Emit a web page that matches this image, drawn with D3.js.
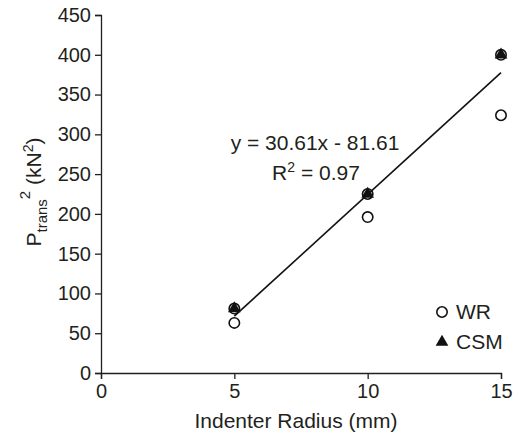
<!DOCTYPE html>
<html><head><meta charset="utf-8">
<script src="https://cdn.jsdelivr.net/npm/d3@7"></script>
<style>
body{margin:0;background:#fff;}
text{font-family:"Liberation Sans",Arial,sans-serif;fill:#231f20;}
</style></head>
<body><svg id="c" width="519" height="436"></svg>
<script>
const wrX = [5, 5, 10, 10, 15, 15];
const wrY = [63, 81, 196, 225, 324, 400];
const csmX = [5, 10, 15];
const csmY = [81, 225, 400];
const fitSlope = 30.61, fitIntercept = -81.61;
const fitRange = [5, 15];
const xTicks = [0, 5, 10, 15];
const yTicks = [0, 50, 100, 150, 200, 250, 300, 350, 400, 450];

const svg = d3.select("#c");
const x = d3.scaleLinear().domain([0, 15]).range([101, 501]);
const y = d3.scaleLinear().domain([0, 450]).range([373, 15]);
const fs = 20, fl = 21;

const xa = svg.append("g").attr("transform", "translate(0,373)")
  .call(d3.axisBottom(x).tickValues(xTicks).tickSizeOuter(0).tickSize(6).tickPadding(5));
const ya = svg.append("g").attr("transform", "translate(101,0)")
  .call(d3.axisLeft(y).tickValues(yTicks).tickSizeOuter(0).tickSize(6).tickPadding(4));
[xa, ya].forEach(a => {
  a.selectAll("path,line").attr("stroke", "#231f20").attr("stroke-width", 1.3);
  a.selectAll("text").style("font-size", fs + "px").attr("fill", "#231f20")
   .style("font-family", "'Liberation Sans',Arial,sans-serif");
});

// fit line
svg.append("line")
  .attr("x1", x(fitRange[0])).attr("y1", y(fitSlope * fitRange[0] + fitIntercept))
  .attr("x2", x(fitRange[1])).attr("y2", y(fitSlope * fitRange[1] + fitIntercept))
  .attr("stroke", "#111").attr("stroke-width", 1.6);

// WR circles
svg.selectAll("circle.wr").data(wrX.map((d, i) => [d, wrY[i]])).enter()
  .append("circle").attr("class", "wr")
  .attr("cx", d => x(d[0])).attr("cy", d => y(d[1])).attr("r", 5.2)
  .attr("fill", "none").attr("stroke", "#111").attr("stroke-width", 1.6);

// CSM triangles
const tri = d3.symbol().type(d3.symbolTriangle).size(70);
svg.selectAll("path.csm").data(csmX.map((d, i) => [d, csmY[i]])).enter()
  .append("path").attr("class", "csm").attr("d", tri)
  .attr("transform", d => `translate(${x(d[0])},${y(d[1])})`)
  .attr("fill", "#111");

// equation
svg.append("text").attr("x", 315).attr("y", 150).attr("text-anchor", "middle")
  .style("font-size", fl + "px").text("y = 30.61x - 81.61");
const r2 = svg.append("text").attr("x", 316).attr("y", 180).attr("text-anchor", "middle")
  .style("font-size", fl + "px");
r2.append("tspan").text("R");
r2.append("tspan").attr("dy", -8).style("font-size", "14px").text("2");
r2.append("tspan").attr("dy", 8).text(" = 0.97");

// legend
svg.append("circle").attr("cx", 442).attr("cy", 312).attr("r", 5.2)
  .attr("fill", "none").attr("stroke", "#111").attr("stroke-width", 1.6);
svg.append("text").attr("x", 456).attr("y", 319).style("font-size", fl + "px").text("WR");
svg.append("path").attr("d", tri).attr("transform", "translate(442,342)").attr("fill", "#111");
svg.append("text").attr("x", 456).attr("y", 349).style("font-size", fl + "px").text("CSM");

// axis titles
svg.append("text").attr("x", 296).attr("y", 428).attr("text-anchor", "middle")
  .style("font-size", fl + "px").text("Indenter Radius (mm)");
const yl = svg.append("text").attr("transform", "translate(41,192) rotate(-90)")
  .attr("text-anchor", "middle").style("font-size", fl + "px");
yl.append("tspan").text("P");
yl.append("tspan").attr("dy", 6).style("font-size", "15px").text("trans");
yl.append("tspan").attr("dy", -17).style("font-size", "15px").text("2");
yl.append("tspan").attr("dy", 11).text(" (kN");
yl.append("tspan").attr("dy", -8).style("font-size", "14px").text("2");
yl.append("tspan").attr("dy", 8).text(")");
</script></body></html>
